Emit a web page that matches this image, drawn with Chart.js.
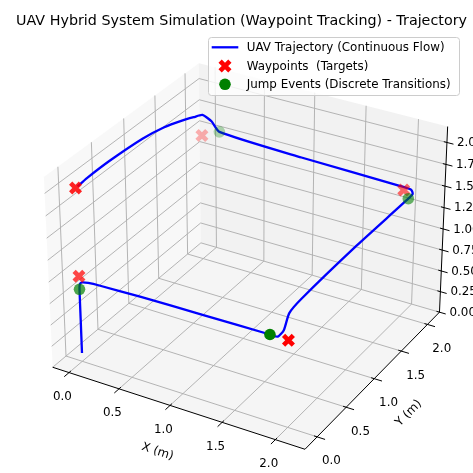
<!DOCTYPE html>
<html><head><meta charset="utf-8">
<script src="https://cdn.jsdelivr.net/npm/chart.js@4.4.1/dist/chart.umd.min.js"></script>
<style>html,body{margin:0;padding:0;background:#fff;overflow:hidden}#wrap{width:473px;height:473px;position:relative}</style>
</head><body><div id="wrap"><canvas id="c"></canvas></div>
<script>
// ---------- text ----------
const TITLE = 'UAV Hybrid System Simulation (Waypoint Tracking) - Trajectory';
const LEGEND_LABELS = ['UAV Trajectory (Continuous Flow)', 'Waypoints  (Targets)', 'Jump Events (Discrete Transitions)'];
const X_LABEL = 'X (m)';
const Y_LABEL = 'Y (m)';

// ---------- axis limits and ticks ----------
const xLim = [-0.166, 2.274];
const yLim = [-0.204, 2.236];
const zLim = [0.0, 2.18];
const xTicks = [0.0, 0.5, 1.0, 1.5, 2.0];
const yTicks = [0.0, 0.5, 1.0, 1.5, 2.0];
const zTicks = [0.0, 0.25, 0.5, 0.75, 1.0, 1.25, 1.5, 1.75, 2.0];
const xTickLabels = ['0.0', '0.5', '1.0', '1.5', '2.0'];
const yTickLabels = ['0.0', '0.5', '1.0', '1.5', '2.0'];
const zTickLabels = ['0.00', '0.25', '0.50', '0.75', '1.00', '1.25', '1.50', '1.75', '2.00'];

// ---------- data ----------
const trajX = [0, 0, 0, 0.005, 0.03, 0.09, 0.2, 0.6, 1.2, 1.83, 1.9, 1.94, 1.95, 1.98, 2.03, 2.07, 2.09, 2.06, 1.95, 1.0, 0.18, 0.1, 0.02, 0.01, 0.0, -0.02, -0.04, -0.04, -0.02, 0.0];
const trajY = [0, 0, 0, 0, 0, 0, 0, 0, 0, 0, 0.005, 0.03, 0.1, 0.25, 1.1, 1.95, 1.99, 2.02, 2.02, 2.01, 2.0, 2.0, 1.98, 1.85, 1.68, 1.4, 1.09, 0.57, 0.2, 0.03];
const trajZ = [0.1, 0.5, 0.85, 0.91, 0.94, 0.955, 0.965, 0.98, 0.99, 1.0, 1.0, 1.07, 1.22, 1.30, 1.40, 1.45, 1.49, 1.51, 1.52, 1.55, 1.6, 1.7, 1.76, 1.8, 1.85, 1.91, 1.94, 1.97, 1.99, 2.0];

const waypointX = [0, 2, 2, 0, 0];
const waypointY = [0, 0, 2, 2, 0];
const waypointZ = [1, 1, 1.5, 1.5, 2];

const jumpX = [0, 1.83, 2.07, 0.18];
const jumpY = [0, 0, 1.95, 2.0];
const jumpZ = [0.85, 1.0, 1.45, 1.6];

// ---------- 3D view (matplotlib-like perspective) ----------
const ELEV = 30, AZIM = -60, DIST = 10;
const BOX = [4, 4, 3].map(v => v * 1.8294640721620434 / Math.sqrt(41));
const er = ELEV * Math.PI / 180, ar = AZIM * Math.PI / 180;
const W = [Math.cos(er) * Math.cos(ar), Math.cos(er) * Math.sin(ar), Math.sin(er)];
function cross(a, b) { return [a[1]*b[2]-a[2]*b[1], a[2]*b[0]-a[0]*b[2], a[0]*b[1]-a[1]*b[0]]; }
function norm(a) { const n = Math.hypot(a[0], a[1], a[2]); return a.map(v => v / n); }
const U = norm(cross([0, 0, 1], W));
const V = cross(W, U);
function dot(a, b) { return a[0]*b[0] + a[1]*b[1] + a[2]*b[2]; }
function project(x, y, z) {
  const d = [
    (x - xLim[0]) / (xLim[1] - xLim[0]) * BOX[0] - BOX[0] / 2,
    (y - yLim[0]) / (yLim[1] - yLim[0]) * BOX[1] - BOX[1] / 2,
    (z - zLim[0]) / (zLim[1] - zLim[0]) * BOX[2] - BOX[2] / 2
  ];
  const den = DIST - dot(W, d);
  return { x: dot(U, d) / den, y: dot(V, d) / den, depth: dot(W, d) };
}
// 2D view window of the projected plane
const SCALE = 2530, CX = 249.5, CY = 247.3, SIZE = 473;

function depthAlpha(xs, ys, zs) {
  const dep = xs.map((x, i) => project(x, ys[i], zs[i]).depth);
  const mx = Math.max(...dep), mn = Math.min(...dep);
  return dep.map(d => 1 - 0.7 * (mx - d) / (mx - mn));
}
const wpAlpha = depthAlpha(waypointX, waypointY, waypointZ);
const jpAlpha = depthAlpha(jumpX, jumpY, jumpZ);

const trajData = trajX.map((x, i) => { const p = project(x, trajY[i], trajZ[i]); return { x: p.x, y: p.y }; });
const wpData = waypointX.map((x, i) => { const p = project(x, waypointY[i], waypointZ[i]); return { x: p.x, y: p.y }; });
const jpData = jumpX.map((x, i) => { const p = project(x, jumpY[i], jumpZ[i]); return { x: p.x, y: p.y }; });

const FONT = '"DejaVu Sans", "Liberation Sans", sans-serif';

const axes3d = {
  id: 'axes3d',
  beforeDatasetsDraw(chart) {
    const ctx = chart.ctx, sx = chart.scales.x, sy = chart.scales.y;
    const P = (x, y, z) => { const p = project(x, y, z); return [sx.getPixelForValue(p.x), sy.getPixelForValue(p.y)]; };
    const [x0, x1] = xLim, [y0, y1] = yLim, [z0, z1] = zLim;
    const rx = x1 - x0, ry = y1 - y0;
    const poly = (pts, fill) => { ctx.beginPath(); pts.forEach((p, i) => { const q = P(...p); i ? ctx.lineTo(q[0], q[1]) : ctx.moveTo(q[0], q[1]); }); ctx.closePath(); ctx.fillStyle = fill; ctx.fill(); };
    const seg = (a, b) => { const p = P(...a), q = P(...b); ctx.moveTo(p[0], p[1]); ctx.lineTo(q[0], q[1]); };
    ctx.save();
    // panes
    poly([[x0,y0,z0],[x1,y0,z0],[x1,y1,z0],[x0,y1,z0]], 'rgba(236,236,236,0.5)');
    poly([[x0,y0,z0],[x0,y1,z0],[x0,y1,z1],[x0,y0,z1]], 'rgba(242,242,242,0.5)');
    poly([[x0,y1,z0],[x1,y1,z0],[x1,y1,z1],[x0,y1,z1]], 'rgba(230,230,230,0.5)');
    // grid
    ctx.beginPath();
    ctx.strokeStyle = '#b0b0b0'; ctx.lineWidth = 0.95;
    xTicks.forEach(t => { seg([t,y0,z0],[t,y1,z0]); seg([t,y1,z0],[t,y1,z1]); });
    yTicks.forEach(t => { seg([x0,t,z0],[x1,t,z0]); seg([x0,t,z0],[x0,t,z1]); });
    zTicks.forEach(t => { seg([x0,y0,t],[x0,y1,t]); seg([x0,y1,t],[x1,y1,t]); });
    ctx.stroke();
    // axis lines and ticks
    ctx.beginPath();
    ctx.strokeStyle = '#000'; ctx.lineWidth = 1;
    seg([x0,y0,z0],[x1,y0,z0]);
    seg([x1,y0,z0],[x1,y1,z0]);
    seg([x1,y1,z0],[x1,y1,z1]);
    xTicks.forEach(t => seg([t, y0 + 0.012*ry, z0], [t, y0 - 0.03*ry, z0]));
    yTicks.forEach(t => seg([x1 - 0.012*rx, t, z0], [x1 + 0.03*rx, t, z0]));
    zTicks.forEach(t => seg([x1 - 0.012*rx, y1, t], [x1 + 0.025*rx, y1, t]));
    ctx.stroke();
    // tick labels
    ctx.fillStyle = '#000';
    ctx.font = '11.9px ' + FONT;
    ctx.textAlign = 'center'; ctx.textBaseline = 'middle';
    xTicks.forEach((t, i) => { const p = P(t, y0, z0); ctx.fillText(xTickLabels[i], p[0] - 6.6, p[1] + 24.5); });
    yTicks.forEach((t, i) => { const p = P(x1, t, z0); ctx.fillText(yTickLabels[i], p[0] + 14.3, p[1] + 24.5); });
    ctx.textAlign = 'left';
    zTicks.forEach((t, i) => { const p = P(x1, y1, t); ctx.fillText(zTickLabels[i], p[0] + 10, p[1] + 0.5); });
    // axis labels
    ctx.textAlign = 'center';
    let a = P(x0, y0, z0), b = P(x1, y0, z0), m = P((x0 + x1) / 2, y0, z0);
    ctx.save(); ctx.translate(m[0] - 18, m[1] + 44.5); ctx.rotate(Math.atan2(b[1]-a[1], b[0]-a[0])); ctx.fillText(X_LABEL, 0, 0); ctx.restore();
    a = P(x1, y0, z0); b = P(x1, y1, z0); m = P(x1, (y0 + y1) / 2, z0);
    ctx.save(); ctx.translate(m[0] + 33.5, m[1] + 35.5); ctx.rotate(Math.atan2(b[1]-a[1], b[0]-a[0])); ctx.fillText(Y_LABEL, 0, 0); ctx.restore();
    ctx.restore();
  },
  afterDraw(chart) {
    const ctx = chart.ctx;
    ctx.save();
    // title
    ctx.fillStyle = '#000';
    ctx.font = '14.3px ' + FONT;
    ctx.textAlign = 'center'; ctx.textBaseline = 'alphabetic';
    ctx.fillText(TITLE, 241.5, 24.5);
    // legend box
    const bx = 208.5, by = 37.5, bw = 251, bh = 58, r = 3;
    ctx.beginPath();
    ctx.moveTo(bx + r, by); ctx.lineTo(bx + bw - r, by); ctx.arcTo(bx + bw, by, bx + bw, by + r, r);
    ctx.lineTo(bx + bw, by + bh - r); ctx.arcTo(bx + bw, by + bh, bx + bw - r, by + bh, r);
    ctx.lineTo(bx + r, by + bh); ctx.arcTo(bx, by + bh, bx, by + bh - r, r);
    ctx.lineTo(bx, by + r); ctx.arcTo(bx, by, bx + r, by, r); ctx.closePath();
    ctx.fillStyle = 'rgba(255,255,255,0.8)'; ctx.fill();
    ctx.strokeStyle = '#cccccc'; ctx.lineWidth = 1; ctx.stroke();
    const rows = [47.3, 66, 84.3];
    const ds = chart.data.datasets;
    // line handle
    ctx.beginPath(); ctx.moveTo(211.7, rows[0]); ctx.lineTo(238.3, rows[0]);
    ctx.strokeStyle = ds[0].borderColor; ctx.lineWidth = ds[0].borderWidth; ctx.stroke();
    // X handle
    const rr = ds[1].pointRadius, o = rr * Math.SQRT1_2;
    ctx.beginPath(); ctx.moveTo(225 - o, rows[1] - o); ctx.lineTo(225 + o, rows[1] + o);
    ctx.moveTo(225 + o, rows[1] - o); ctx.lineTo(225 - o, rows[1] + o);
    ctx.strokeStyle = 'rgb(255,0,0)'; ctx.lineWidth = ds[1].pointBorderWidth; ctx.lineCap = 'butt'; ctx.stroke();
    // circle handle
    ctx.beginPath(); ctx.arc(225, rows[2], ds[2].pointRadius, 0, Math.PI * 2);
    ctx.fillStyle = 'rgb(0,128,0)'; ctx.fill();
    ctx.fillStyle = '#000'; ctx.font = '11.9px ' + FONT;
    ctx.textAlign = 'left'; ctx.textBaseline = 'middle';
    LEGEND_LABELS.forEach((t, i) => ctx.fillText(t, 246.7, rows[i] + 0.5));
    ctx.restore();
  }
};

new Chart(document.getElementById('c'), {
  type: 'scatter',
  data: {
    datasets: [
      { label: LEGEND_LABELS[0], data: trajData, showLine: true, borderColor: 'rgb(0,0,255)', borderWidth: 2.3,
        pointRadius: 0, tension: 0.2, fill: false, order: 3 },
      { label: LEGEND_LABELS[1], data: wpData, showLine: false, pointStyle: 'crossRot', pointRadius: 6.9,
        pointBorderWidth: 4.6, pointBorderColor: wpAlpha.map(a => `rgba(255,0,0,${a})`),
        pointBackgroundColor: 'rgba(0,0,0,0)', order: 2 },
      { label: LEGEND_LABELS[2], data: jpData, showLine: false, pointStyle: 'circle', pointRadius: 5.8,
        pointBorderWidth: 0, pointBackgroundColor: jpAlpha.map(a => `rgba(0,128,0,${a})`), order: 1 }
    ]
  },
  options: {
    responsive: true, maintainAspectRatio: false, animation: false, devicePixelRatio: 1,
    events: [],
    layout: { padding: 0, autoPadding: false },
    scales: {
      x: { type: 'linear', display: false, min: -CX / SCALE, max: (SIZE - CX) / SCALE },
      y: { type: 'linear', display: false, min: (CY - SIZE) / SCALE, max: CY / SCALE }
    },
    plugins: { legend: { display: false }, title: { display: false }, tooltip: { enabled: false } }
  },
  plugins: [axes3d]
});
</script></body></html>
